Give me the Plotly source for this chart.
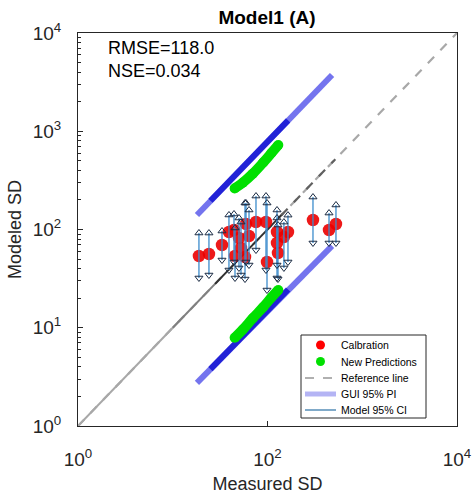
import plotly.graph_objects as go

# ---- data ----
measured = [18.9, 24.1, 33.1, 39.2, 44.3, 50.0, 52.5, 45.4, 57.9, 59.3, 63.8,
            75.6, 96.4, 98.8, 126, 126, 129, 149, 164.5, 302, 446, 528]
modeled = [53.7, 56.3, 69.6, 94.3, 98.9, 81.9, 64.8, 53.7, 52.5, 113.7, 85.9,
           119.2, 119.2, 46.7, 94.3, 72.9, 57.6, 83.9, 94.3, 125, 98.9, 113.7]
ci_upper = [92.1, 92.0, 96.5, 140.5, 143.8, 130.9, 119, 103.6, 186, 186, 157.9,
            219, 219, 186, 157.9, 131, 111, 119, 140, 214, 147, 177.6]
ci_lower = [32.1, 34.4, 48.9, 38.7, 46.7, 40.6, 34.4, 32.1, 31.3, 46.7, 43.5,
            61.8, 38.7, 24.2, 43.5, 32.1, 31.3, 40.6, 46.7, 72.9, 72.9, 72.9]

new_x = [45.0, 55.0, 70.0, 90.0, 110.0, 130.0]
new_upper = [262, 300, 370, 480, 600, 724]
new_lower = [7.9, 9.6, 12.5, 16.2, 20.3, 24.2]

gui_x = [18.0, 480.0]
gui_upper = [140.5, 3738]
gui_lower = [2.75, 68.0]
dense_x = [25.0, 165.0]
dense_upper = [196, 1290]
dense_lower = [3.8, 24.5]

ref_x = [1, 10000]
ref_seg_light = [1, 12]
ref_seg_mid = [10, 32]
ref_seg_dark = [28, 145]
ref_seg_dash = [140, 520]

x_tickvals = [1, 100, 10000]
x_ticktext = ["10<sup>0</sup>", "10<sup>2</sup>", "10<sup>4</sup>"]
y_tickvals = [1, 10, 100, 1000, 10000]
y_ticktext = ["10<sup>0</sup>", "10<sup>1</sup>", "10<sup>2</sup>", "10<sup>3</sup>", "10<sup>4</sup>"]
y_minor = [m * 10 ** d for d in range(4) for m in range(2, 10)]

legend_labels = ["Calbration", "New Predictions", "Reference line", "GUI 95% PI", "Model 95% CI"]

W, H = 474, 498
L, R, T, B = 78, 17, 33, 72
PW, PH = W - L - R, H - T - B


def px(xp):
    return (xp - L) / PW


def py(yp):
    return (H - B - yp) / PH


fig = go.Figure()

# GUI 95% PI (light band)
for yy in (gui_upper, gui_lower):
    fig.add_trace(go.Scatter(x=gui_x, y=yy, mode="lines",
                             line=dict(color="rgba(50,50,230,0.68)", width=6),
                             showlegend=False, hoverinfo="skip"))
# denser overlapping part
for yy in (dense_upper, dense_lower):
    fig.add_trace(go.Scatter(x=dense_x, y=yy, mode="lines",
                             line=dict(color="rgba(20,20,210,0.85)", width=6),
                             showlegend=False, hoverinfo="skip"))

# reference line
fig.add_trace(go.Scatter(x=ref_x, y=ref_x, mode="lines",
                         line=dict(color="#a8a8a8", width=2.2, dash="dash"),
                         showlegend=False, hoverinfo="skip"))
fig.add_trace(go.Scatter(x=ref_seg_light, y=ref_seg_light, mode="lines",
                         line=dict(color="#a8a8a8", width=2), showlegend=False, hoverinfo="skip"))
fig.add_trace(go.Scatter(x=ref_seg_mid, y=ref_seg_mid, mode="lines",
                         line=dict(color="#808080", width=2), showlegend=False, hoverinfo="skip"))
fig.add_trace(go.Scatter(x=ref_seg_dark, y=ref_seg_dark, mode="lines",
                         line=dict(color="#303030", width=2), showlegend=False, hoverinfo="skip"))
fig.add_trace(go.Scatter(x=ref_seg_dash, y=ref_seg_dash, mode="lines",
                         line=dict(color="#606060", width=2.2, dash="dash"),
                         showlegend=False, hoverinfo="skip"))

# new predictions (green)
for yy in (new_upper, new_lower):
    fig.add_trace(go.Scatter(x=new_x, y=yy, mode="lines+markers",
                             line=dict(color="#00e000", width=10, shape="spline"),
                             marker=dict(color="#00e000", size=10),
                             showlegend=False, hoverinfo="skip"))

# calibration points
fig.add_trace(go.Scatter(x=measured, y=modeled, mode="markers",
                         marker=dict(color="rgba(235,0,0,0.9)", size=12.5),
                         showlegend=False))

# model 95% CI error bars
bx, by = [], []
for xv, lo, hi in zip(measured, ci_lower, ci_upper):
    bx += [xv, xv, None]
    by += [lo, hi, None]
fig.add_trace(go.Scatter(x=bx, y=by, mode="lines",
                         line=dict(color="#3c8ccc", width=1.3),
                         showlegend=False, hoverinfo="skip"))
fig.add_trace(go.Scatter(x=measured, y=ci_upper, mode="markers",
                         marker=dict(symbol="triangle-up-open", size=7,
                                     color="#1c2c44", line=dict(width=1)),
                         showlegend=False, hoverinfo="skip"))
fig.add_trace(go.Scatter(x=measured, y=ci_lower, mode="markers",
                         marker=dict(symbol="triangle-down-open", size=7,
                                     color="#1c2c44", line=dict(width=1)),
                         showlegend=False, hoverinfo="skip"))

font_family = "Liberation Sans, Arial, sans-serif"

# ---- hand-drawn legend (MATLAB style, compact) ----
shapes = [dict(type="rect", xref="paper", yref="paper",
               x0=px(301), x1=px(426), y0=py(418), y1=py(335),
               line=dict(color="#262626", width=1), fillcolor="white", layer="above")]
row_y = [345, 361.5, 378, 394, 410]
annotations = []
shapes.append(dict(type="circle", xref="paper", yref="paper",
                   x0=px(316), x1=px(325), y0=py(row_y[0] + 4.5), y1=py(row_y[0] - 4.5),
                   fillcolor="#ff0000", line=dict(width=0), layer="above"))
shapes.append(dict(type="circle", xref="paper", yref="paper",
                   x0=px(316), x1=px(325), y0=py(row_y[1] + 4.5), y1=py(row_y[1] - 4.5),
                   fillcolor="#00e000", line=dict(width=0), layer="above"))
shapes.append(dict(type="line", xref="paper", yref="paper",
                   x0=px(305), x1=px(336), y0=py(row_y[2]), y1=py(row_y[2]),
                   line=dict(color="#b0b0b0", width=2, dash="dash"), layer="above"))
shapes.append(dict(type="line", xref="paper", yref="paper",
                   x0=px(305), x1=px(336), y0=py(row_y[3]), y1=py(row_y[3]),
                   line=dict(color="#b4b4f4", width=5), layer="above"))
shapes.append(dict(type="line", xref="paper", yref="paper",
                   x0=px(305), x1=px(336), y0=py(row_y[4]), y1=py(row_y[4]),
                   line=dict(color="#3c7cac", width=1.3), layer="above"))
for lab, ry in zip(legend_labels, row_y):
    annotations.append(dict(text=lab, x=px(339), y=py(ry), xref="paper", yref="paper",
                            xanchor="left", yanchor="middle", showarrow=False,
                            font=dict(size=10.5, color="#000000", family=font_family)))

annotations.append(dict(text="RMSE=118.0<br>NSE=0.034", x=px(106), y=py(36),
                        xref="paper", yref="paper",
                        xanchor="left", yanchor="top", showarrow=False, align="left",
                        font=dict(size=18, color="#000000", family=font_family)))

axis_common = dict(type="log", showline=True, mirror=True, linecolor="#262626",
                   linewidth=1, ticks="inside", ticklen=5, tickcolor="#262626",
                   showgrid=False, zeroline=False, tickmode="array", automargin=False,
                   tickfont=dict(size=19, color="#262626", family=font_family))

fig.update_layout(
    width=W, height=H,
    margin=dict(l=L, r=R, t=T, b=B),
    paper_bgcolor="white", plot_bgcolor="white",
    font=dict(family=font_family, color="#262626"),
    showlegend=False,
    title=dict(text="<b>Model1 (A)</b>", x=px(267), xanchor="center", xref="paper",
               y=1 - 17 / H, yanchor="middle", automargin=False,
               font=dict(size=19, color="#000000", family=font_family)),
    xaxis=dict(axis_common, range=[0, 4], tickvals=x_tickvals, ticktext=x_ticktext,
               ticklabelstandoff=16,
               title=dict(text="Measured SD", font=dict(size=18, color="#262626"), standoff=8)),
    yaxis=dict(axis_common, range=[0, 4], tickvals=y_tickvals, ticktext=y_ticktext,
               ticklabelstandoff=12,
               minor=dict(tickmode="array", tickvals=y_minor, ticks="inside", ticklen=3,
                          tickcolor="#262626", showgrid=False),
               title=dict(text="Modeled SD", font=dict(size=18, color="#262626"), standoff=6)),
    shapes=shapes,
    annotations=annotations,
)

fig.write_html("out.html", config={"displayModeBar": False},
               post_script="document.body.style.margin='0';document.body.style.overflow='hidden';")
